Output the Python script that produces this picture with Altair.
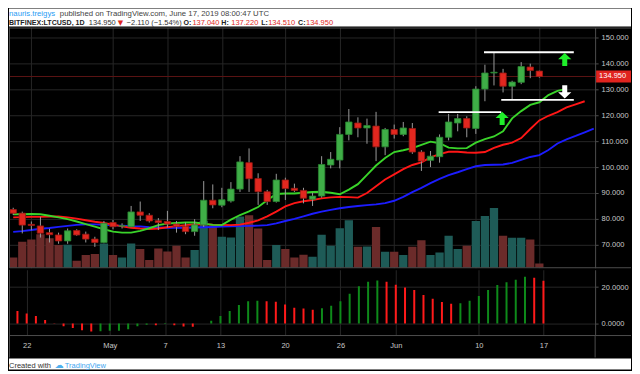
import altair as alt
import pandas as pd

# ---------------- data ----------------
first_day = "2019-04-20"
last_day = "2019-06-17"

opens = [83.6, 82.2, 77.9, 77.3, 74.7, 73.8, 71.5, 75.5, 74.1, 72.2,
         70.9, 78.6, 77.2, 77.0, 82.7, 81.4, 79.3, 79.0, 78.0, 77.2,
         75.1, 77.7, 87.2, 85.3, 86.9, 91.5, 101.7, 95.6, 90.5, 86.7,
         95.0, 91.8, 91.0, 87.6, 88.8, 100.8, 102.7, 112.6, 117.0, 115.1,
         115.8, 107.8, 114.5, 112.6, 114.9, 105.8, 102.6, 104.0, 111.5, 117.0,
         118.7, 114.9, 130.1, 136.3, 136.3, 131.2, 132.7, 138.6, 137.04]
highs = [84.3, 82.8, 79.0, 80.8, 76.2, 74.7, 76.3, 76.0, 75.1, 73.1,
         79.2, 79.6, 78.3, 85.0, 86.7, 82.2, 80.3, 83.1, 79.2, 78.6,
         79.9, 94.6, 93.3, 92.0, 94.2, 104.2, 107.2, 97.6, 91.2, 97.4,
         95.9, 93.6, 92.0, 90.1, 104.2, 105.8, 115.4, 122.4, 119.2, 118.7,
         121.3, 115.1, 116.4, 117.4, 117.0, 106.5, 106.2, 112.6, 120.5, 120.5,
         119.6, 131.2, 139.5, 144.2, 137.9, 133.3, 140.5, 139.9, 137.22]
lows = [81.5, 74.4, 75.6, 72.8, 70.9, 70.4, 70.4, 73.5, 70.9, 69.2,
        70.6, 76.0, 76.3, 76.8, 79.2, 78.6, 75.7, 76.7, 74.7, 74.1,
        73.5, 76.9, 84.1, 84.5, 86.3, 90.4, 90.4, 85.4, 85.4, 86.3,
        87.3, 90.4, 86.0, 85.0, 88.2, 99.5, 99.5, 110.3, 111.5, 109.0,
        102.3, 104.6, 111.0, 111.9, 105.1, 98.5, 100.0, 101.7, 110.3, 113.8,
        111.5, 112.8, 125.4, 131.5, 128.8, 126.0, 132.0, 134.3, 134.51]
closes = [82.2, 77.6, 77.5, 74.5, 73.9, 71.5, 75.4, 73.8, 72.2, 70.9,
          78.3, 77.0, 77.4, 82.7, 81.4, 79.2, 78.6, 78.0, 77.0, 75.1,
          77.7, 87.2, 85.4, 87.4, 91.5, 102.0, 95.5, 90.5, 86.7, 95.0,
          91.7, 91.0, 88.0, 88.8, 101.0, 103.0, 112.6, 117.4, 115.1, 116.0,
          107.8, 114.5, 112.6, 115.1, 105.8, 102.3, 104.2, 111.5, 117.4, 118.7,
          115.1, 130.1, 136.3, 136.6, 131.2, 132.8, 138.8, 137.3, 134.95]
volumes = [103, 260, 283, 337, 297, 227, 230, 70, 127, 137,
           243, 127, 103, 243, 187, 77, 193, 163, 220, 103,
           177, 470, 427, 310, 303, 513, 527, 393, 77, 227,
           187, 103, 130, 110, 330, 220, 397, 477, 210, 213,
           410, 160, 160, 127, 210, 277, 127, 153, 320, 187,
           220, 470, 520, 600, 320, 300, 300, 283, 43]

# Awesome Oscillator, from Apr 21
ao_values = [6.9, 5.5, 4.2, 2.0, 0.2, -1.5, -2.5, -3.6, -4.4, -4.2,
             -4.0, -3.9, -3.1, -1.5, -0.7, -0.9, -0.2, -0.9, -1.6, -1.8,
             0.1, 1.5, 4.2, 6.9, 10.2, 12.2, 12.5, 12.2, 12.0, 10.4,
             8.7, 8.2, 7.6, 8.4, 9.8, 12.2, 16.4, 20.5, 22.9, 23.6,
             22.9, 21.3, 19.8, 18.4, 15.6, 13.6, 11.8, 10.9, 11.1, 12.5,
             15.1, 18.4, 21.1, 22.7, 24.0, 25.6, 25.1, 23.5]

# Alligator (shifted forward, so they run past the last candle)
lips = [81.8, 81.8, 81.9, 81.8, 81.2, 80.6, 79.9, 79.0, 78.0, 77.0,
        76.0, 75.1, 74.7, 74.7, 75.4, 76.4, 77.6, 78.2, 78.4, 78.6,
        78.6, 78.2, 77.7, 77.6, 79.7, 81.5, 82.9, 84.6, 87.2, 89.6,
        89.8, 89.8, 90.1, 90.4, 90.5, 90.1, 89.5, 91.3, 93.4, 97.0,
        100.6, 103.5, 105.8, 106.5, 107.3, 108.6, 109.8, 109.2, 107.5, 107.2,
        107.3, 109.4, 110.8, 111.8, 113.8, 118.8, 121.6, 124.0, 125.0, 127.8,
        129.4, 130.2]
teeth = [80.6, 80.7, 80.8, 80.8, 80.9, 80.9, 80.6, 80.1, 79.5, 78.9,
         78.4, 77.8, 77.1, 76.6, 76.3, 76.1, 76.3, 76.8, 77.2, 77.6,
         77.9, 78.0, 77.8, 77.7, 77.6, 77.8, 78.5, 79.4, 81.0, 82.8,
         84.8, 86.1, 86.8, 87.3, 87.9, 88.3, 88.5, 88.4, 88.2, 90.0,
         92.6, 95.2, 97.2, 99.2, 100.8, 101.8, 103.7, 105.0, 105.9, 105.9,
         105.6, 105.5, 105.8, 107.4, 108.6, 109.4, 111.2, 114.7, 118.0, 119.8,
         121.2, 123.0, 124.2, 125.4]
jaw = [75.0, 75.3, 75.7, 76.2, 76.5, 76.9, 77.3, 77.7, 77.9, 77.9,
       77.7, 77.5, 77.4, 77.2, 77.1, 76.8, 76.7, 76.6, 76.6, 76.6,
       76.7, 76.8, 76.9, 77.0, 77.1, 77.2, 77.3, 77.4, 77.6, 78.3,
       79.2, 80.0, 81.0, 82.0, 82.8, 83.5, 84.1, 84.6, 85.0, 85.3,
       85.6, 86.1, 87.0, 88.5, 90.3, 92.0, 93.8, 95.4, 96.9, 98.0,
       99.2, 100.3, 100.8, 100.9, 101.0, 101.6, 102.8, 103.9, 104.6, 106.6,
       109.1, 110.7, 112.0, 113.4, 114.8]

tick_dates = ["2019-04-22", "2019-05-01", "2019-05-07", "2019-05-13", "2019-05-20",
              "2019-05-26", "2019-06-01", "2019-06-10", "2019-06-17"]
tick_labels = ["22", "May", "7", "13", "20", "26", "Jun", "10", "17"]
price_ticks = [70, 80, 90, 100, 110, 120, 130, 140, 150]
ao_ticks = [0, 20]
last_price = [134.95]

# hand drawn levels and arrows (day offsets from the first day)
level_price = [144.3, 121.2, 125.9]
level_start = [51.9, 46.9, 53.8]
level_end = [61.8, 53.8, 61.8]
arrow_day = [60.8, 53.9, 60.8]
arrow_price = [141.5, 118.8, 129.0]
arrow_kind = ["up", "up", "down"]

# ---------------- styles ----------------
FONT = "Liberation Sans"
FS = 7.5
HFS = 7.8
W, AXW = 588, 36
HDR_H, H_MAIN, H_AO, DATE_H, FOOT_H = 18, 241, 66, 22, 11
GRID = "#262626"
SEP = "#4d4d4d"
LBL = "#c8c8c8"
UP_FILL, UP_STROKE = "#3fae47", "#2a8431"
DN_FILL, DN_STROKE = "#e2271f", "#9c1a14"
VOL_UP, VOL_DN = "#1e5b57", "#6b2b2a"
LIME, TEETH_RED, JAW_BLUE = "#3ad42a", "#ff1616", "#1c1cff"
AO_UP, AO_DN = "#0e8a1a", "#ff1a1a"
ARROW_GREEN = "#1fef2a"
RED_TXT = "#e0281e"
UP_PATH = "M0,-1 L1,-0.05 L0.38,-0.05 L0.38,1 L-0.38,1 L-0.38,-0.05 L-1,-0.05 Z"
DOWN_PATH = "M0,1 L1,0.05 L0.38,0.05 L0.38,-1 L-0.38,-1 L-0.38,0.05 L-1,0.05 Z"

# ---------------- frames ----------------
start = pd.Timestamp(first_day)
dates = pd.date_range(first_day, last_day, freq="D")
candles = pd.DataFrame({"day": range(len(dates)), "open": opens, "high": highs,
                        "low": lows, "close": closes, "volume": volumes})
candles["dir"] = ["up" if c >= o else "down" for o, c in zip(opens, closes)]

ao_df = pd.DataFrame({"day": range(1, 1 + len(ao_values)), "ao": ao_values})
prev = ao_df["ao"].shift(1)
ao_df["dir"] = ["up" if (p == p and a >= p) else "down" for a, p in zip(ao_df["ao"], prev)]
ao_df["zero"] = 0.0

jaw_df = pd.DataFrame({"day": range(len(jaw)), "value": jaw})
teeth_df = pd.DataFrame({"day": range(len(teeth)), "value": teeth})
lips_df = pd.DataFrame({"day": range(len(lips)), "value": lips})
levels = pd.DataFrame({"price": level_price, "start": level_start, "end": level_end})
arrows = pd.DataFrame({"day": arrow_day, "price": arrow_price, "kind": arrow_kind})
last_df = pd.DataFrame({"price": last_price, "label": [f"{p:.3f}" for p in last_price]})
blank = pd.DataFrame({"k": [0]})

tick_days = [(pd.Timestamp(t) - start).days for t in tick_dates]
label_expr = "".join(f"datum.value == {d} ? '{l}' : " for d, l in zip(tick_days, tick_labels)) + "''"

# ---------------- scales & axes ----------------
xscale = alt.Scale(domain=[0.085, 63.6], nice=False, zero=False)
x_grid_axis = alt.Axis(values=tick_days, grid=True, gridColor=GRID, labels=False, ticks=False,
                       domain=False, title=None, minExtent=0, maxExtent=0)
price_scale = alt.Scale(domain=[61.15, 153.85], nice=False, zero=False)
price_axis = alt.Axis(orient="right", values=price_ticks, format=".3f", grid=True, gridColor=GRID,
                      domain=True, domainColor=SEP, ticks=True, tickColor=SEP, tickSize=3,
                      labelColor=LBL, labelFont=FONT, labelFontSize=FS, labelPadding=3,
                      title=None, minExtent=AXW, maxExtent=AXW)

X = alt.X("day:Q", scale=xscale, axis=x_grid_axis)


def PY(field):
    return alt.Y(field, type="quantitative", scale=price_scale, axis=price_axis)


def only(direction):
    return alt.datum.dir == direction


# ---------------- header ----------------
def txt(s, x, y, color, bold=False, font=FONT, size=HFS):
    return alt.Chart(blank).mark_text(
        text=s, align="left", baseline="alphabetic", font=font, fontSize=size,
        fontWeight="bold" if bold else "normal", color=color
    ).encode(x=alt.value(x), y=alt.value(y))


hdr_bg = alt.Chart(blank).mark_rect(color="white").encode(
    x=alt.value(0), x2=alt.value(W + AXW), y=alt.value(0), y2=alt.value(HDR_H))
BOLD_FS = 7.1
header = alt.layer(
    hdr_bg,
    txt("nauris.treigys", 0, 7, "#2a9df4"),
    txt("published on TradingView.com, June 17, 2019 08:00:47 UTC", 51, 7, "#444444"),
    txt("BITFINEX:LTCUSD, 1D", 0, 16.5, "#222222", bold=True, size=BOLD_FS),
    txt("134.950", 80, 16.5, "#333333", size=FS),
    txt("\u25bc", 109, 16.5, RED_TXT, font="DejaVu Sans", size=7),
    txt("\u22122.110 (\u22121.54%)", 118, 16.5, "#333333", size=FS),
    txt("O:", 175, 16.5, "#222222", bold=True, size=BOLD_FS),
    txt("137.040", 184, 16.5, RED_TXT, size=FS),
    txt("H:", 213, 16.5, "#222222", bold=True, size=BOLD_FS),
    txt("137.220", 223, 16.5, RED_TXT, size=FS),
    txt("L:", 253, 16.5, "#222222", bold=True, size=BOLD_FS),
    txt("134.510", 260, 16.5, RED_TXT, size=FS),
    txt("C:", 290, 16.5, "#222222", bold=True, size=BOLD_FS),
    txt("134.950", 298, 16.5, RED_TXT, size=FS),
).properties(width=W, height=HDR_H)

# ---------------- main pane ----------------
VY = alt.Y("volume:Q", scale=alt.Scale(domain=[0, 2410]), axis=None)
vol_up = alt.Chart(candles).transform_filter(only("up")).mark_bar(size=8.3, clip=True, color=VOL_UP).encode(x=X, y=VY)
vol_dn = alt.Chart(candles).transform_filter(only("down")).mark_bar(size=8.3, clip=True, color=VOL_DN).encode(x=X, y=VY)
vol = alt.layer(vol_up, vol_dn)

price_line = alt.Chart(last_df).mark_rule(color="#5c1414", strokeWidth=1).encode(y=PY("price"))


def ma(df, color):
    return alt.Chart(df).mark_line(strokeWidth=1.9, clip=True, color=color).encode(x=X, y=PY("value"))


wicks = alt.Chart(candles).mark_rule(color="#9a9a9a", strokeWidth=1, clip=True).encode(
    x=X, y=PY("low"), y2="high:Q")


def body(direction, fill, stroke):
    return alt.Chart(candles).transform_filter(only(direction)).mark_bar(
        size=6.4, strokeWidth=0.8, clip=True, fill=fill, stroke=stroke
    ).encode(x=X, y=PY("open"), y2="close:Q")


level_rules = alt.Chart(levels).mark_rule(color="white", strokeWidth=1.8, clip=True).encode(
    x=alt.X("start:Q", scale=xscale, axis=x_grid_axis), x2="end:Q", y=PY("price"))

up_arrows = alt.Chart(arrows).transform_filter(alt.datum.kind == "up").mark_point(
    shape=UP_PATH, filled=True, size=175, opacity=1, color=ARROW_GREEN, clip=True
).encode(x=X, y=PY("price"))
down_arrows = alt.Chart(arrows).transform_filter(alt.datum.kind == "down").mark_point(
    shape=DOWN_PATH, filled=True, size=175, opacity=1, color="white", clip=True
).encode(x=X, y=PY("price"))

label_box = alt.Chart(last_df).mark_rect(color="#e0241f", yOffset=-6, y2Offset=6).encode(
    x=alt.value(W + 1), x2=alt.value(W + AXW), y=PY("price"), y2="price:Q")
label_txt = alt.Chart(last_df).mark_text(align="left", baseline="middle", color="white",
                                         font=FONT, fontSize=FS).encode(
    x=alt.value(W + 4), y=PY("price"), text="label:N")


def hrule(y, x0, x1):
    return alt.Chart(blank).mark_rule(color=SEP, strokeWidth=1).encode(
        x=alt.value(x0), x2=alt.value(x1), y=alt.value(y))


def vrule(x, y0, y1):
    return alt.Chart(blank).mark_rule(color=SEP, strokeWidth=1).encode(
        x=alt.value(x), y=alt.value(y0), y2=alt.value(y1))


price_layers = alt.layer(
    price_line, ma(jaw_df, JAW_BLUE), ma(teeth_df, TEETH_RED), ma(lips_df, LIME),
    wicks, body("up", UP_FILL, UP_STROKE), body("down", DN_FILL, DN_STROKE),
    level_rules, up_arrows, down_arrows, label_box, label_txt,
    hrule(0.5, 0, W + AXW), hrule(H_MAIN, 0, W + AXW), vrule(0.5, 0, H_MAIN))
main = alt.layer(vol, price_layers).resolve_scale(y="independent").properties(width=W, height=H_MAIN)

# ---------------- oscillator pane ----------------
ao_x_axis = alt.Axis(values=tick_days, labelExpr=label_expr, grid=True, gridColor=GRID, ticks=False,
                     domain=False, labelColor=LBL, labelFont=FONT, labelFontSize=FS, labelPadding=6,
                     labelFlush=False, title=None, minExtent=DATE_H, maxExtent=DATE_H)
ao_scale = alt.Scale(domain=[-6.56, 29.5], nice=False, zero=False)
ao_y_axis = alt.Axis(orient="right", values=ao_ticks, format=".4f", grid=True, gridColor=GRID,
                     domain=True, domainColor=SEP, ticks=True, tickColor=SEP, tickSize=3,
                     labelColor=LBL, labelFont=FONT, labelFontSize=FS, labelPadding=3,
                     title=None, minExtent=AXW, maxExtent=AXW)


def ao_bars(direction, color):
    return alt.Chart(ao_df).transform_filter(only(direction)).mark_rule(
        strokeWidth=2, clip=True, color=color
    ).encode(x=alt.X("day:Q", scale=xscale, axis=ao_x_axis),
             y=alt.Y("ao:Q", scale=ao_scale, axis=ao_y_axis), y2="zero:Q")


ao_pane = alt.layer(
    ao_bars("up", AO_UP), ao_bars("down", AO_DN),
    hrule(H_AO, 0, W + AXW),
    vrule(W, H_AO, H_AO + DATE_H),
    vrule(0.5, 0, H_AO + DATE_H),
).properties(width=W, height=H_AO)

# ---------------- footer ----------------
foot_bg = alt.Chart(blank).mark_rect(color="white").encode(
    x=alt.value(0), x2=alt.value(W + AXW), y=alt.value(0), y2=alt.value(FOOT_H))
footer = alt.layer(
    foot_bg,
    txt("Created with", 0, 9.5, "#333333", size=FS),
    txt("\u2601", 46, 9.5, "#4fb0ee", font="DejaVu Sans", size=9),
    txt("TradingView", 56, 9.5, "#3fa6f0", size=FS),
).properties(width=W, height=FOOT_H)

chart = alt.vconcat(header, main, ao_pane, footer, spacing=0).properties(
    padding=0, background="#000000"
).configure_view(stroke=None).configure_concat(spacing=0)

chart.save("out.html", embed_options={"renderer": "svg", "actions": False})
